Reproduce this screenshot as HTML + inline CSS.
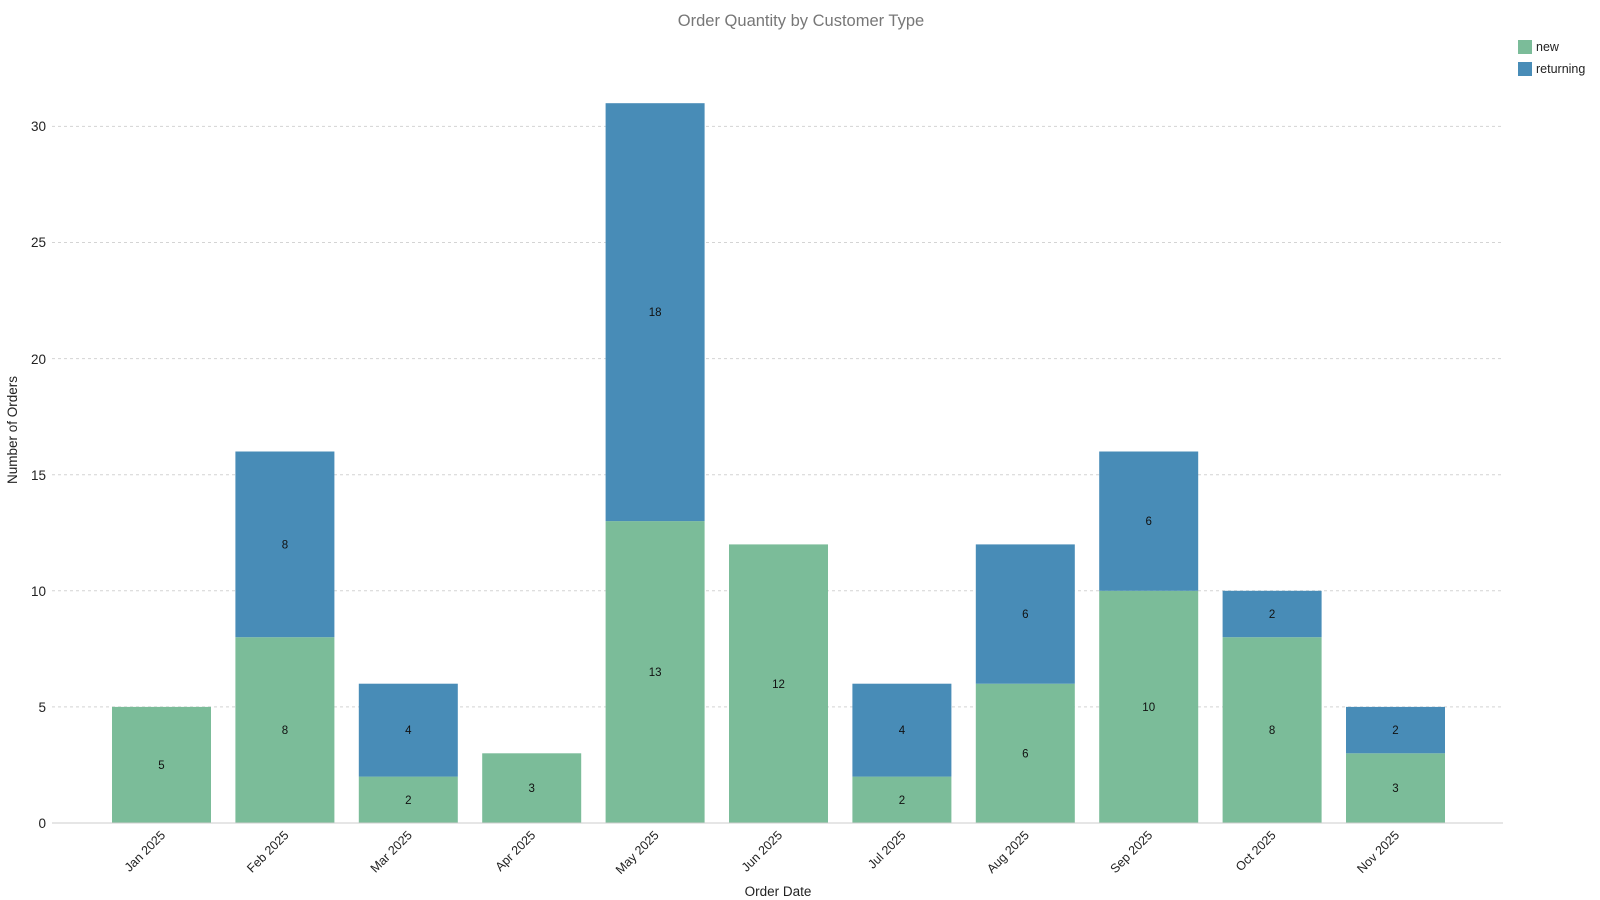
<!DOCTYPE html>
<html><head><meta charset="utf-8"><style>body{margin:0;background:#fff}svg{display:block;font-family:"Liberation Sans",sans-serif}</style></head><body>
<svg width="1600" height="900" viewBox="0 0 1600 900">
<text x="801" y="26" text-anchor="middle" font-size="16.5" fill="#777">Order Quantity by Customer Type</text>
<rect x="1518" y="40" width="14" height="14" fill="#7bbc99"/><text x="1536" y="51" font-size="12.5" fill="#222">new</text>
<rect x="1518" y="62" width="14" height="14" fill="#488cb7"/><text x="1536" y="73" font-size="12.5" fill="#222">returning</text>
<g stroke="#d4d4d4" stroke-dasharray="3,3" stroke-width="1">
<line x1="52" x2="1503" y1="706.9" y2="706.9"/><line x1="52" x2="1503" y1="590.8" y2="590.8"/><line x1="52" x2="1503" y1="474.7" y2="474.7"/><line x1="52" x2="1503" y1="358.6" y2="358.6"/><line x1="52" x2="1503" y1="242.5" y2="242.5"/><line x1="52" x2="1503" y1="126.4" y2="126.4"/>
</g>
<g font-size="13.5" fill="#222" text-anchor="end">
<text x="46" y="828">0</text><text x="46" y="712">5</text><text x="46" y="596">10</text><text x="46" y="480">15</text><text x="46" y="364">20</text><text x="46" y="247">25</text><text x="46" y="131">30</text>
</g>
<g fill="#7bbc99">
<rect x="112" y="706.9" width="99" height="116.1"/>
<rect x="235.4" y="637.2" width="99" height="185.8"/>
<rect x="358.8" y="776.6" width="99" height="46.4"/>
<rect x="482.2" y="753.3" width="99" height="69.7"/>
<rect x="605.6" y="521.1" width="99" height="301.9"/>
<rect x="729" y="544.4" width="99" height="278.6"/>
<rect x="852.4" y="776.6" width="99" height="46.4"/>
<rect x="975.8" y="683.7" width="99" height="139.3"/>
<rect x="1099.2" y="590.8" width="99" height="232.2"/>
<rect x="1222.6" y="637.2" width="99" height="185.8"/>
<rect x="1346" y="753.3" width="99" height="69.7"/>
</g>
<g fill="#488cb7">
<rect x="235.4" y="451.5" width="99" height="185.7"/>
<rect x="358.8" y="683.7" width="99" height="92.9"/>
<rect x="605.6" y="103.2" width="99" height="417.9"/>
<rect x="852.4" y="683.7" width="99" height="92.9"/>
<rect x="975.8" y="544.4" width="99" height="139.3"/>
<rect x="1099.2" y="451.5" width="99" height="139.3"/>
<rect x="1222.6" y="590.8" width="99" height="46.4"/>
<rect x="1346" y="706.9" width="99" height="46.4"/>
</g>
<line x1="52" x2="1503" y1="823" y2="823" stroke="#ccc"/>
<g font-size="11.5" fill="#111" text-anchor="middle">
<text x="161.5" y="769">5</text>
<text x="284.9" y="734">8</text><text x="284.9" y="548.5">8</text>
<text x="408.3" y="804">2</text><text x="408.3" y="734">4</text>
<text x="531.7" y="792">3</text>
<text x="655.1" y="676">13</text><text x="655.1" y="316">18</text>
<text x="778.5" y="688">12</text>
<text x="901.9" y="804">2</text><text x="901.9" y="734">4</text>
<text x="1025.3" y="757.5">6</text><text x="1025.3" y="618">6</text>
<text x="1148.7" y="711">10</text><text x="1148.7" y="525">6</text>
<text x="1272.1" y="734">8</text><text x="1272.1" y="618">2</text>
<text x="1395.5" y="792">3</text><text x="1395.5" y="734">2</text>
</g>
<g font-size="12.5" fill="#222" text-anchor="end">
<text transform="translate(166,836) rotate(-45)">Jan 2025</text>
<text transform="translate(289.4,836) rotate(-45)">Feb 2025</text>
<text transform="translate(412.8,836) rotate(-45)">Mar 2025</text>
<text transform="translate(536.2,836) rotate(-45)">Apr 2025</text>
<text transform="translate(659.6,836) rotate(-45)">May 2025</text>
<text transform="translate(783,836) rotate(-45)">Jun 2025</text>
<text transform="translate(906.4,836) rotate(-45)">Jul 2025</text>
<text transform="translate(1029.8,836) rotate(-45)">Aug 2025</text>
<text transform="translate(1153.2,836) rotate(-45)">Sep 2025</text>
<text transform="translate(1276.6,836) rotate(-45)">Oct 2025</text>
<text transform="translate(1400,836) rotate(-45)">Nov 2025</text>
</g>
<text x="778" y="896" font-size="13.5" fill="#222" text-anchor="middle">Order Date</text>
<text transform="translate(17,430) rotate(-90)" font-size="13.5" fill="#222" text-anchor="middle">Number of Orders</text>
</svg>
</body></html>
